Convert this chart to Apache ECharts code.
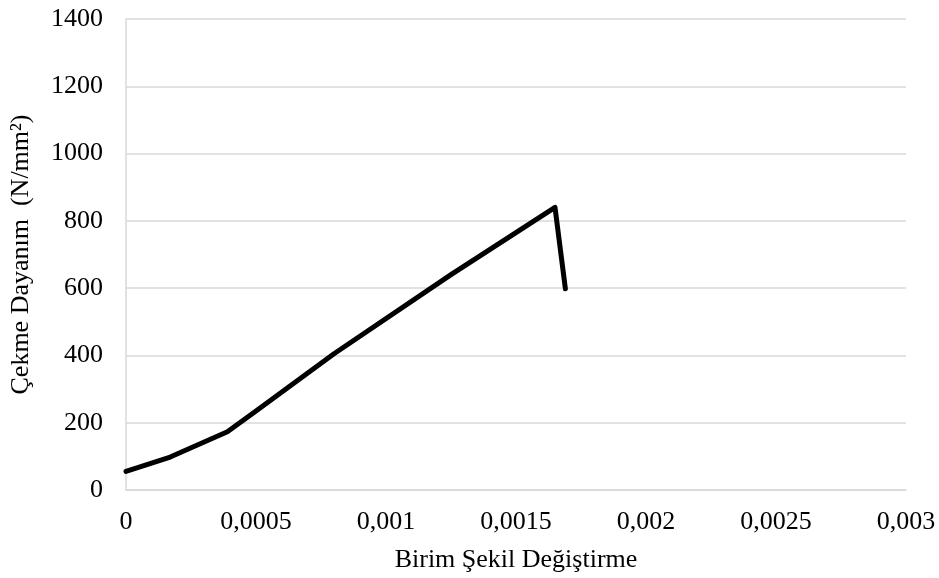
<!DOCTYPE html>
<html>
<head>
<meta charset="utf-8">
<script src="https://cdn.jsdelivr.net/npm/echarts@6/dist/echarts.min.js"></script>
<style>html,body{margin:0;padding:0;background:#fff;}#c{width:939px;height:578px;}</style>
</head>
<body>
<div id="c"></div>
<script>
const strain = [0, 0.00017, 0.00039, 0.0005, 0.0008, 0.00125, 0.00165, 0.00169];
const stress = [55, 98, 173, 235, 405, 640, 840, 598];
const xTickLabels = ['0', '0,0005', '0,001', '0,0015', '0,002', '0,0025', '0,003'];
const yTickLabels = ['0', '200', '400', '600', '800', '1000', '1200', '1400'];
const xTitle = 'Birim Şekil Değiştirme';
const yTitle = 'Çekme Dayanım  (N/mm²)';

const data = strain.map((x, i) => [x, stress[i]]);
const font = 'Liberation Serif';
const fs = 26;
const chart = echarts.init(document.getElementById('c'));
chart.setOption({
  animation: false,
  backgroundColor: '#fff',
  grid: { left: 126, right: 33, top: 19, bottom: 86, containLabel: false },
  xAxis: {
    type: 'value', min: 0, max: 0.003, interval: 0.0005,
    name: xTitle, nameLocation: 'middle', nameGap: 57,
    nameTextStyle: { fontFamily: font, fontSize: fs, color: '#000' },
    axisLine: { show: true, lineStyle: { color: '#d9d9d9', width: 1.5 } },
    axisTick: { show: false },
    splitLine: { show: false },
    axisLabel: {
      fontFamily: font, fontSize: fs, color: '#000', margin: 19,
      formatter: v => xTickLabels[Math.round(v / 0.0005)]
    }
  },
  yAxis: {
    type: 'value', min: 0, max: 1400, interval: 200,
    name: yTitle, nameLocation: 'middle', nameGap: 92, nameRotate: 90,
    nameTextStyle: { fontFamily: font, fontSize: fs, color: '#000' },
    axisLine: { show: true, lineStyle: { color: '#d9d9d9', width: 1.5 } },
    axisTick: { show: false },
    splitLine: { show: true, lineStyle: { color: '#d9d9d9', width: 1.5 } },
    axisLabel: {
      fontFamily: font, fontSize: fs, color: '#000', margin: 23,
      formatter: v => yTickLabels[Math.round(v / 200)]
    }
  },
  series: [{
    type: 'line', data: data, showSymbol: false, symbol: 'none',
    lineStyle: { color: '#000', width: 5, cap: 'round', join: 'round' }
  }]
});
</script>
</body>
</html>
